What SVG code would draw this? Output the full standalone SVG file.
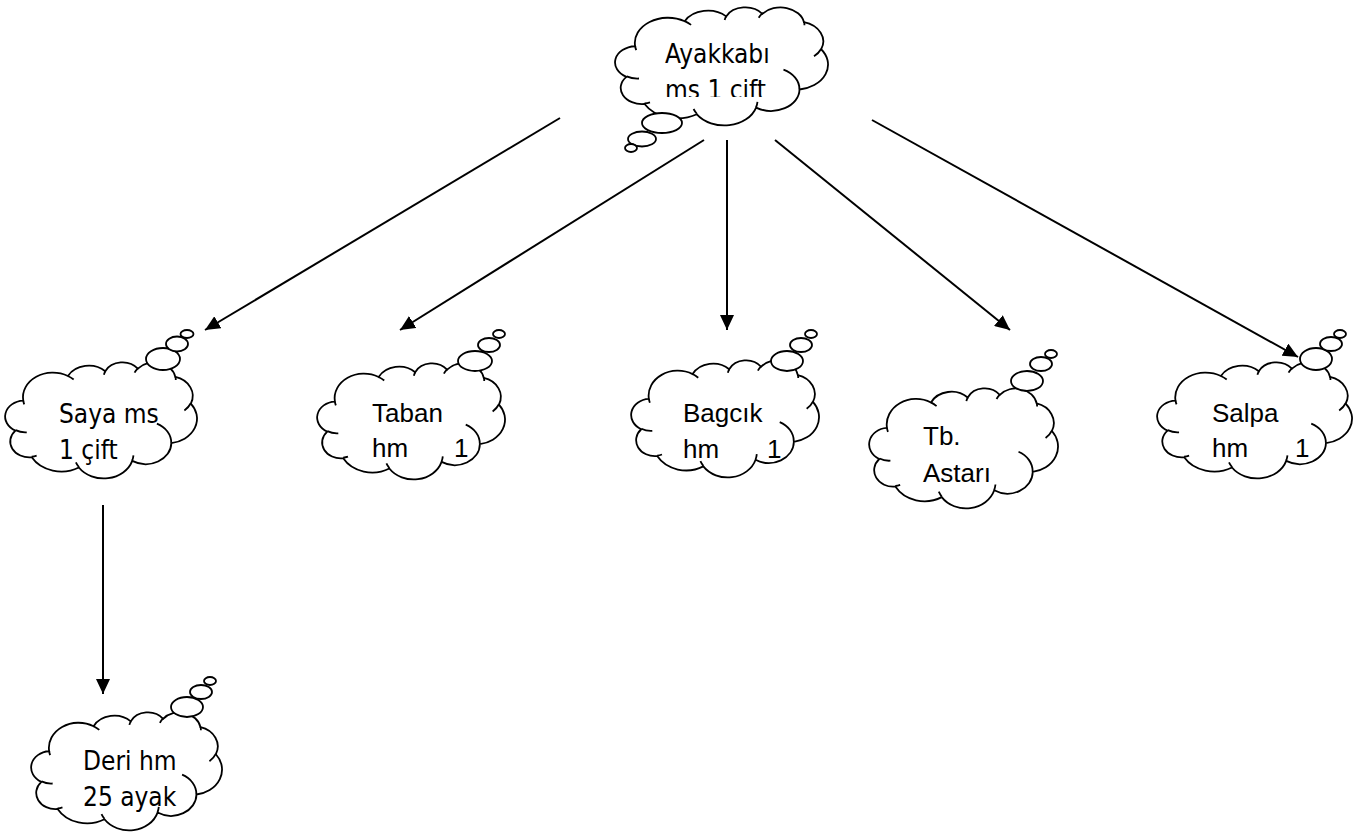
<svg xmlns="http://www.w3.org/2000/svg" xmlns:xlink="http://www.w3.org/1999/xlink" width="1362" height="834" viewBox="0 0 1362 834">
<style>
.cl{fill:#fff;stroke:#000;stroke-width:1.8;vector-effect:non-scaling-stroke}
.wr{fill:none;stroke:#000;stroke-width:1.8;vector-effect:non-scaling-stroke}
.bb{fill:#fff;stroke:#000;stroke-width:1.8}
.t1{font-family:"DejaVu Sans Condensed","DejaVu Sans",sans-serif;font-stretch:condensed;font-size:26px;fill:#000}
.t2{font-family:"Liberation Sans",Arial,sans-serif;font-size:26px;fill:#000}
.cn{stroke:#000;stroke-width:2;fill:none;marker-end:url(#ah)}
</style>
<defs>
<marker id="ah" markerWidth="16" markerHeight="14" refX="15" refY="7" orient="auto" markerUnits="userSpaceOnUse">
<path d="M0,0 L15,7 L0,14 z" fill="#000"/>
</marker>
<g id="cloud">
<path class="cl" d="M9.03,33.26 A15.63,21.27 0 0 1 32.42,12.04 A12.34,16.82 0 0 1 51.96,7.95 A10.10,13.76 0 0 1 69.03,5.75 A11.24,15.27 0 0 1 88.67,12.91 A12.34,16.84 0 0 1 96.77,35.81 A15.68,21.34 0 0 1 86.56,69.93 A13.39,18.21 0 0 1 66.08,85.23 A15.63,21.33 0 0 1 38.15,90.92 A17.87,24.41 0 0 1 13.48,82.14 A10.09,13.70 0 0 1 4.93,59.18 A10.06,13.76 0 0 1 9.03,33.26 Z"/>
<path class="wr" d="M10.86,60.59 A10.06,13.76 0 0 1 5.02,58.76 M16.04,80.78 A10.09,13.70 0 0 1 13.47,81.67 M38.14,90.49 A15.63,21.33 0 0 1 36.59,86.45 M66.73,80.44 A15.63,21.33 0 0 1 66.11,84.87 M79.00,53.13 A13.39,18.21 0 0 1 86.52,69.64 M96.75,35.54 A12.34,16.84 0 0 1 93.39,41.74 M88.71,12.56 A11.24,15.27 0 0 1 88.89,15.48 M67.31,9.15 A11.24,15.27 0 0 1 69.02,5.42 M51.25,10.93 A10.10,13.76 0 0 1 52.08,7.71 M32.41,12.02 A15.63,21.27 0 0 1 35.42,15.14 M9.55,36.55 A15.63,21.27 0 0 1 9.02,33.26"/>
</g>
<clipPath id="clipA"><rect x="600" y="0" width="240" height="97"/></clipPath>
</defs>

<g id="node-ayakkabi">
<use xlink:href="#cloud" transform="translate(616,7) scale(2.12,1.18)"/>
<ellipse class="bb" cx="662" cy="123" rx="20" ry="10"/>
<ellipse class="bb" cx="642" cy="139" rx="14" ry="7.5"/>
<ellipse class="bb" cx="631" cy="148" rx="6" ry="4"/>
<g clip-path="url(#clipA)">
<text class="t1" x="665" y="63">Ayakkabı</text>
<text class="t1" x="665" y="99">ms 1 çift</text>
</g>
</g>

<g id="node-saya">
<use xlink:href="#cloud" transform="translate(6,362) scale(1.91,1.16)"/>
<ellipse class="bb" cx="163" cy="359" rx="17" ry="11"/>
<ellipse class="bb" cx="177" cy="344" rx="11" ry="7.5"/>
<ellipse class="bb" cx="187" cy="334" rx="6.5" ry="4"/>
<text class="t1" x="59" y="423">Saya ms</text>
<text class="t1" x="59" y="459">1 çift</text>
</g>

<g id="node-taban">
<use xlink:href="#cloud" transform="translate(318,363) scale(1.87,1.16)"/>
<ellipse class="bb" cx="475" cy="361" rx="17" ry="10"/>
<ellipse class="bb" cx="489" cy="345" rx="11" ry="7"/>
<ellipse class="bb" cx="499" cy="334" rx="6" ry="4"/>
<text class="t2" x="372" y="422">Taban</text>
<text class="t2" y="457"><tspan x="372">hm</tspan><tspan x="454">1</tspan></text>
</g>

<g id="node-bagcik">
<use xlink:href="#cloud" transform="translate(632,360) scale(1.87,1.17)"/>
<ellipse class="bb" cx="787" cy="361" rx="16" ry="10"/>
<ellipse class="bb" cx="801" cy="345" rx="11" ry="7"/>
<ellipse class="bb" cx="811" cy="334" rx="6" ry="4"/>
<text class="t2" x="683" y="422">Bagcık</text>
<text class="t2" y="458"><tspan x="683">hm</tspan><tspan x="767">1</tspan></text>
</g>

<g id="node-tb-astari">
<use xlink:href="#cloud" transform="translate(870,388) scale(1.88,1.20)"/>
<ellipse class="bb" cx="1027" cy="381" rx="16" ry="10"/>
<ellipse class="bb" cx="1041" cy="364" rx="11" ry="7"/>
<ellipse class="bb" cx="1051" cy="354" rx="6" ry="4"/>
<text class="t2" x="923" y="445">Tb.</text>
<text class="t2" x="923" y="482">Astarı</text>
</g>

<g id="node-salpa">
<use xlink:href="#cloud" transform="translate(1158,362) scale(1.94,1.16)"/>
<ellipse class="bb" cx="1316" cy="359" rx="16" ry="11"/>
<ellipse class="bb" cx="1331" cy="344" rx="11" ry="7"/>
<ellipse class="bb" cx="1340" cy="334" rx="6" ry="4"/>
<text class="t2" x="1212" y="422">Salpa</text>
<text class="t2" y="457"><tspan x="1212">hm</tspan><tspan x="1295">1</tspan></text>
</g>

<g id="node-deri">
<use xlink:href="#cloud" transform="translate(32,712) scale(1.90,1.18)"/>
<ellipse class="bb" cx="187" cy="707" rx="16" ry="10"/>
<ellipse class="bb" cx="201" cy="692" rx="11" ry="7"/>
<ellipse class="bb" cx="210" cy="681" rx="6" ry="4"/>
<text class="t1" x="83" y="770">Deri hm</text>
<text class="t1" x="83" y="806">25 ayak</text>
</g>

<g id="connectors">
<path class="cn" d="M560,118 L205,330"/>
<path class="cn" d="M704,140 L400,330"/>
<path class="cn" d="M727,140 L727,330"/>
<path class="cn" d="M775,140 L1010,330"/>
<path class="cn" d="M872,120 L1298,357"/>
<path class="cn" d="M103,505 L103,694"/>
</g>
</svg>
